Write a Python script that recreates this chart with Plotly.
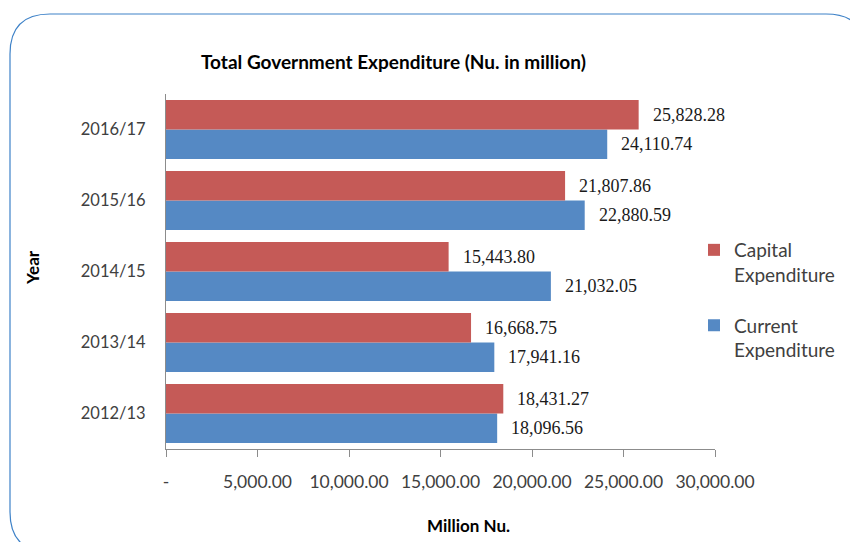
import plotly.graph_objects as go

years = ["2012/13", "2013/14", "2014/15", "2015/16", "2016/17"]
capital = [18431.27, 16668.75, 15443.80, 21807.86, 25828.28]
current = [18096.56, 17941.16, 21032.05, 22880.59, 24110.74]
x_ticks = [0, 5000, 10000, 15000, 20000, 25000, 30000]
x_tick_labels = ["-", "5,000.00", "10,000.00", "15,000.00", "20,000.00", "25,000.00", "30,000.00"]

OFF = 8  # page body margin
W, H = 858 - OFF, 542 - OFF
# plot area in screen pixels
L, R, T, B = 166, 715, 94, 449

RED = "#C55A57"
BLUE = "#5589C4"

fig = go.Figure()
fig.add_trace(go.Bar(y=years, x=current, orientation="h", name="Current<br>Expenditure",
                     legendgroup="cur", legendrank=2, marker=dict(color=BLUE, line=dict(width=0))))
fig.add_trace(go.Bar(y=years, x=capital, orientation="h", name="Capital<br>Expenditure",
                     legendgroup="cap", legendrank=1, marker=dict(color=RED, line=dict(width=0))))

slot = (B - T) / len(years)
bargap = 0.17
half = (1 - bargap) / 2 * slot / 2

LBL = dict(family="Liberation Serif", size=18, color="#1a1a1a")
annotations = []
for yv, c, k in zip(years, capital, current):
    annotations.append(dict(x=c, y=yv, xref="x", yref="y", text=f"{c:,.2f}", showarrow=False,
                            xanchor="left", yanchor="middle", xshift=12, yshift=half, font=LBL))
    annotations.append(dict(x=k, y=yv, xref="x", yref="y", text=f"{k:,.2f}", showarrow=False,
                            xanchor="left", yanchor="middle", xshift=12, yshift=-half, font=LBL))


def px(xp):
    return (xp - L) / (R - L)


def py(yp):
    return (B - yp) / (B - T)


annotations.append(dict(text="<b>Total Government Expenditure (Nu. in million)</b>", xref="paper", yref="paper",
                        x=px(393), y=py(62), xanchor="center", yanchor="middle",
                        showarrow=False, font=dict(family="Lato", size=19, color="#000000")))
annotations.append(dict(text="<b>Million Nu.</b>", xref="paper", yref="paper",
                        x=px(469), y=py(525), xanchor="center", yanchor="middle",
                        showarrow=False, font=dict(family="Lato", size=17, color="#000000")))
annotations.append(dict(text="<b>Year</b>", xref="paper", yref="paper", textangle=-90,
                        x=px(32), y=py(268), xanchor="center", yanchor="middle",
                        showarrow=False, font=dict(family="Lato", size=17, color="#000000")))

x0, y0, x1, y1, r = 10, 14, 866, 552, 40
path = (f"M {px(x0)},{py(y0 + r)} "
        f"Q {px(x0)},{py(y0)} {px(x0 + r)},{py(y0)} "
        f"L {px(x1 - r)},{py(y0)} "
        f"Q {px(x1)},{py(y0)} {px(x1)},{py(y0 + r)} "
        f"L {px(x1)},{py(y1 - r)} "
        f"Q {px(x1)},{py(y1)} {px(x1 - r)},{py(y1)} "
        f"L {px(x0 + r)},{py(y1)} "
        f"Q {px(x0)},{py(y1)} {px(x0)},{py(y1 - r)} Z")

fig.update_layout(
    width=W, height=H,
    margin=dict(l=L - OFF, r=W + OFF - R, t=T - OFF, b=H + OFF - B, pad=0, autoexpand=False),
    paper_bgcolor="white", plot_bgcolor="white",
    barmode="group", bargap=bargap, bargroupgap=0,
    showlegend=True,
    legend=dict(x=px(694), y=py(231), xanchor="left", yanchor="top",
                traceorder="grouped", valign="top",
                font=dict(family="Lato", size=19, color="#404040"), tracegroupgap=23,
                itemsizing="constant", itemwidth=30, bgcolor="rgba(0,0,0,0)"),
    annotations=annotations,
    shapes=[dict(type="path", xref="paper", yref="paper", path=path,
                 line=dict(color="#3E82C8", width=1.2), fillcolor="rgba(0,0,0,0)", layer="below")],
    xaxis=dict(range=[0, 30000], tickvals=x_ticks, ticktext=x_tick_labels, showgrid=False, zeroline=False,
               showline=True, linecolor="#8C8C8C", linewidth=1, ticks="outside", ticklen=7, tickcolor="#8C8C8C",
               ticklabelstandoff=10, tickangle=0,
               tickfont=dict(family="Lato", size=17.5, color="#404040"), fixedrange=True),
    yaxis=dict(showgrid=False, zeroline=False, showline=True, linecolor="#8C8C8C", linewidth=1,
               ticks="", ticklabelstandoff=16,
               tickfont=dict(family="Lato", size=16.5, color="#404040"), fixedrange=True),
)

fig.write_html("out.html")
